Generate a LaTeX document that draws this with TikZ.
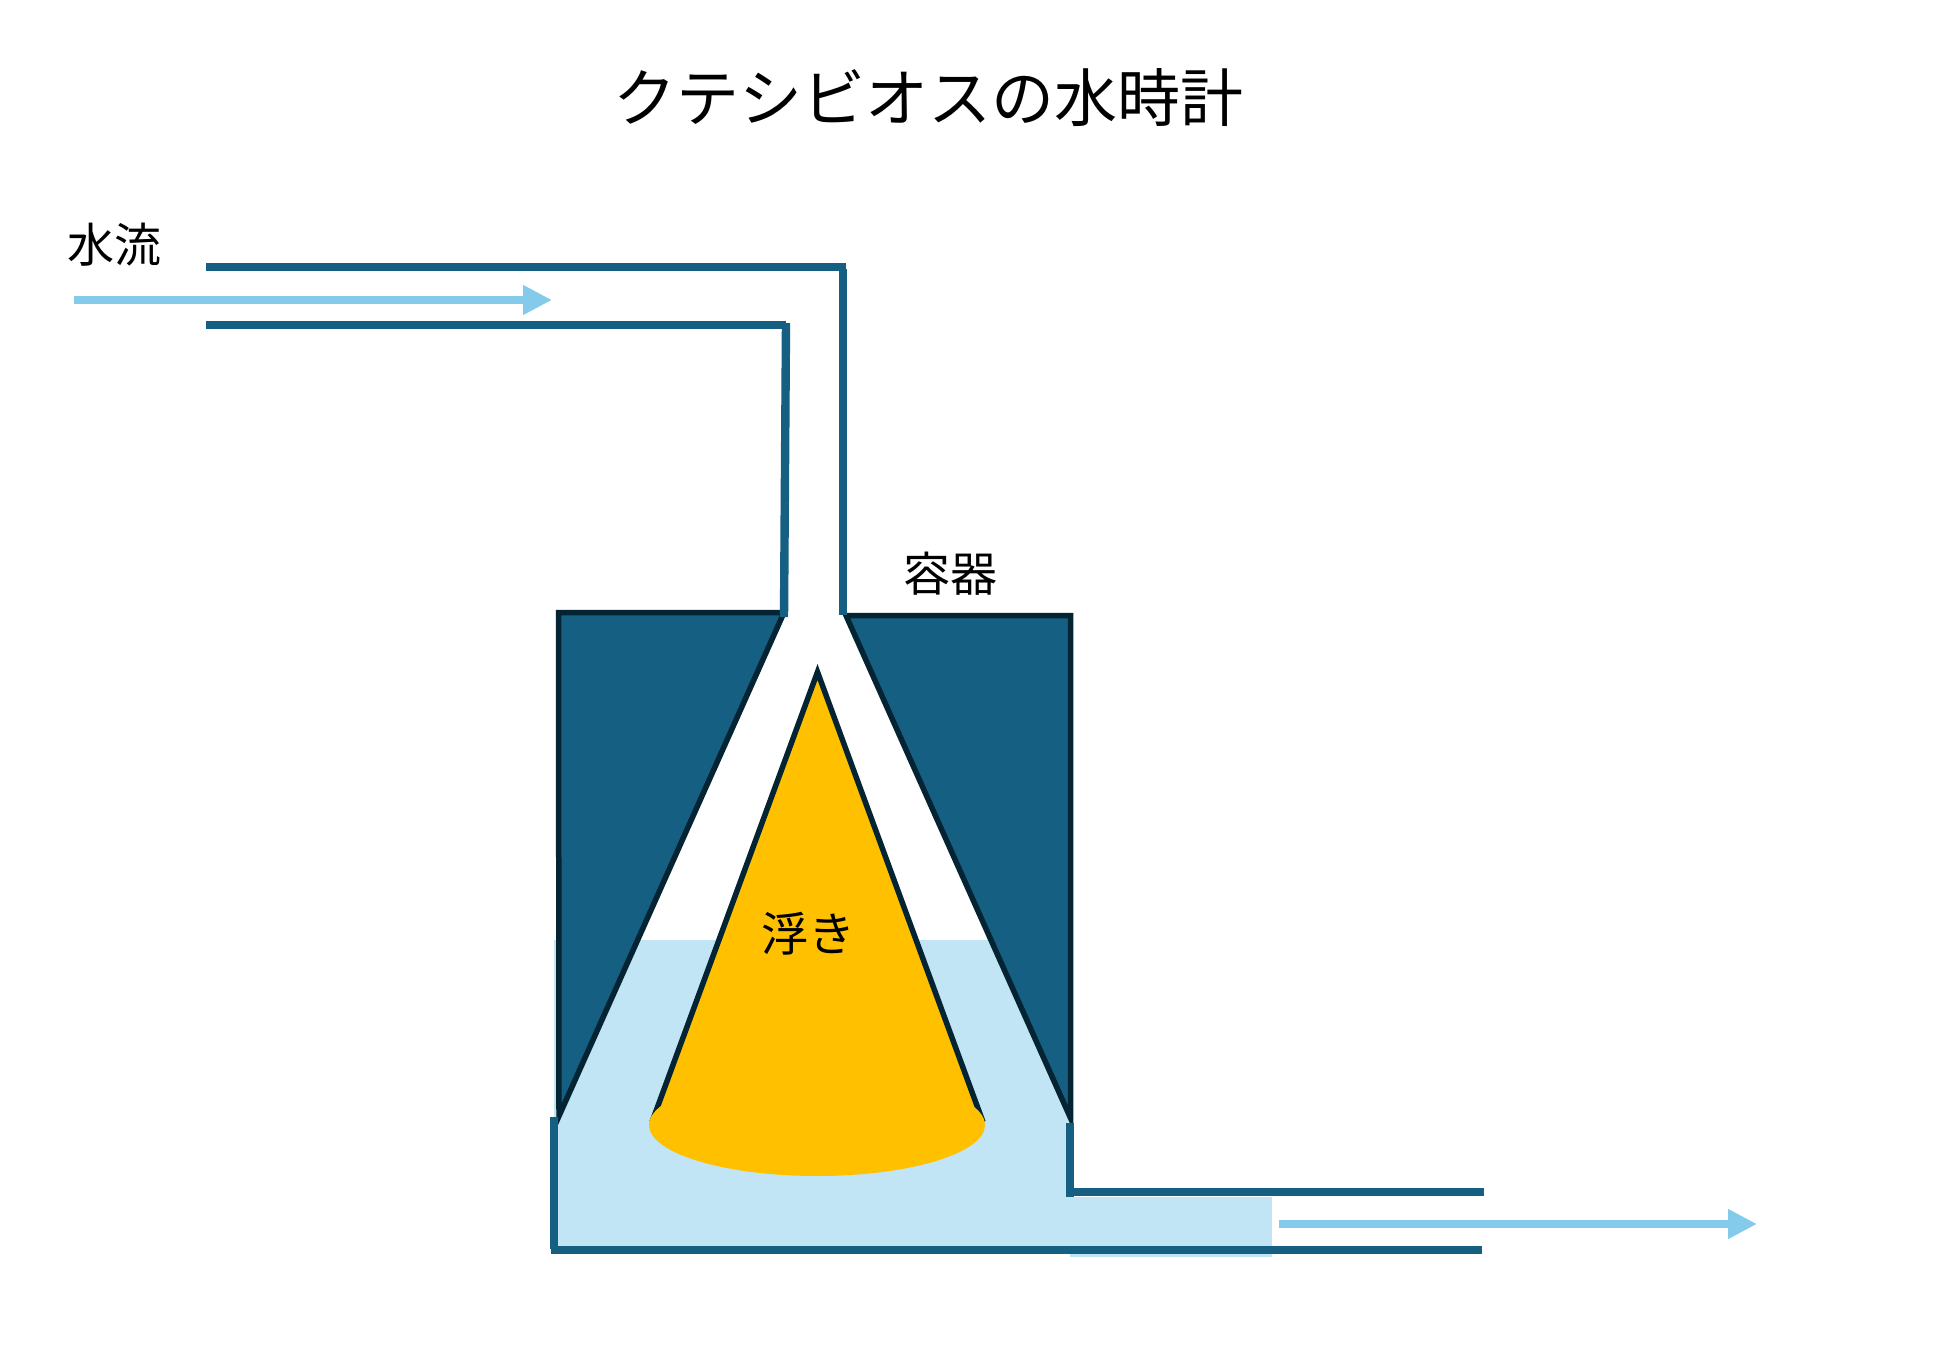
\documentclass[tikz,border=0pt]{standalone}
\usepackage{fontspec}
\usepackage{xcolor}
\usetikzlibrary{arrows.meta}
\newfontfamily\cjk{Noto Sans CJK JP}
\definecolor{pipeblue}{HTML}{156082}
\definecolor{edgedark}{HTML}{042433}
\definecolor{waterblue}{HTML}{C1E5F5}
\definecolor{flowblue}{HTML}{83CAEB}
\definecolor{floatyellow}{HTML}{FFC000}

\begin{document}
\begin{tikzpicture}[x=0.5pt, y=-0.5pt,
  wall/.style={draw=pipeblue, line width=4.2pt},
  block/.style={draw=edgedark, fill=pipeblue, line width=2.75pt},
  flow/.style={draw=flowblue, line width=4.2pt, -{Triangle[length=14.5pt, width=14pt]}},
  label/.style={font=\cjk\fontsize{23.5pt}{28pt}\selectfont, inner sep=0pt}]
\useasboundingbox (0,0) rectangle (1949,1358);

\fill[waterblue] (554,940) rectangle (1071,1252);
\fill[waterblue] (1070,1197) rectangle (1272,1257);

\draw[block] (558.5,612.5) -- (784,612.5) -- (559,1116) -- cycle;
\draw[block] (846,615.5) -- (1070.5,615.5) -- (1070.5,1118) -- cycle;

\fill[floatyellow] (817.5,672) -- (985,1125) -- (650,1125) -- cycle;
\draw[draw=edgedark, line width=2.75pt] (652,1122) -- (817.5,672) -- (983,1122);
\fill[floatyellow] (817,1125) ellipse (168 and 51);

\coordinate (in1) at (206,267);
\coordinate (in2) at (846,267);
\coordinate (in3) at (843,269);
\coordinate (in4) at (843,615);
\coordinate (in5) at (206,325);
\coordinate (in6) at (786,325);
\coordinate (in7) at (786,323);
\coordinate (in8) at (784,617);
\draw[wall] (in1) -- (in2);
\draw[wall] (in3) -- (in4);
\draw[wall] (in5) -- (in6);
\draw[wall] (in7) -- (in8);

\coordinate (out1) at (554,1117);
\coordinate (out2) at (554,1249);
\coordinate (out3) at (551,1250);
\coordinate (out4) at (1482,1250);
\coordinate (out5) at (1070,1123);
\coordinate (out6) at (1070,1197);
\coordinate (out7) at (1070,1192);
\coordinate (out8) at (1484,1192);
\draw[wall] (out1) -- (out2);
\draw[wall] (out3) -- (out4);
\draw[wall] (out5) -- (out6);
\draw[wall] (out7) -- (out8);

\coordinate (flowinstart) at (74,300);
\coordinate (flowinend) at (552,300);
\coordinate (flowoutstart) at (1279,1224);
\coordinate (flowoutend) at (1757,1224);
\draw[flow] (flowinstart) -- (flowinend);
\draw[flow] (flowoutstart) -- (flowoutend);

\node[label, font=\cjk\fontsize{31.5pt}{38pt}\selectfont] (title) at (928,98) {クテシビオスの水時計};
\node[label] (waterflow) at (115,245) {水流};
\node[label] (vessel) at (950,574) {容器};
\node[label] (floater) at (808,934) {浮き};
\end{tikzpicture}
\end{document}
